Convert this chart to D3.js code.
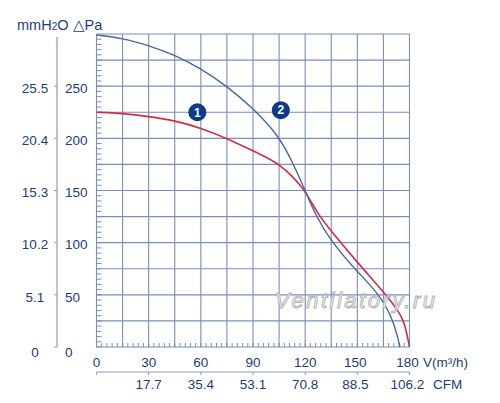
<!DOCTYPE html>
<html>
<head>
<meta charset="utf-8">
<script src="https://cdn.jsdelivr.net/npm/d3@7"></script>
<style>
  body { margin: 0; background: #fff; }
  text { font-family: "Liberation Sans", Arial, sans-serif; fill: #1f3c78; }
</style>
</head>
<body>
<svg width="500" height="403"></svg>
<script>
// curve 1 (red) and curve 2 (blue), airflow in m3/h, pressure in Pa
const blueFlow = [0, 15, 30, 45, 60, 75, 90, 105, 112.5, 120, 126, 135, 150, 163, 171, 174.5];
const bluePa   = [299, 296, 289, 280, 267, 250, 229, 202, 178, 150, 126, 101, 72, 50, 25, 0];
const redFlow  = [0, 15, 30, 45, 60, 75, 90, 97.5, 105, 112.5, 120, 127, 135, 150, 165, 173, 177, 180];
const redPa    = [225, 224, 221, 217, 210, 200, 188, 182, 175, 164, 150, 128, 111, 81, 53, 36, 25, 0];

// tick labels
const flowTicks = [0, 30, 60, 90, 120, 150, 180];
const cfmTicks = [30, 60, 90, 120, 150, 180];
const cfmLabels = ["17.7", "35.4", "53.1", "70.8", "88.5", "106.2"];
const paTicks = [0, 50, 100, 150, 200, 250];
const mmLabels = ["0", "5.1", "10.2", "15.3", "20.4", "25.5"];

const svg = d3.select("svg");
const gridColor = "#7b8eb8";

// scales for the plot area
const x = d3.scaleLinear().domain([0, 180]).range([96.5, 409.5]);
const y = d3.scaleLinear().domain([0, 300]).range([347, 34]);

// grid
const grid = svg.append("g");
grid.selectAll(".vgrid")
    .data(d3.range(0, 181, 15))
    .enter()
    .append("line")
    .attr("x1", d => x(d)).attr("x2", d => x(d))
    .attr("y1", y(0)).attr("y2", y(300))
    .attr("stroke", gridColor)
    .attr("stroke-width", 1.1);
grid.selectAll(".hgrid")
    .data(d3.range(0, 301, 25))
    .enter()
    .append("line")
    .attr("x1", x(0)).attr("x2", x(180))
    .attr("y1", d => y(d)).attr("y2", d => y(d))
    .attr("stroke", gridColor)
    .attr("stroke-width", 1.1);

// small ticks inside the plot, left side every 5 Pa and bottom every 3 m3/h
grid.selectAll(".ytick")
    .data(d3.range(0, 300, 5))
    .enter()
    .append("line")
    .attr("x1", x(0)).attr("x2", x(0) + 5)
    .attr("y1", d => y(d)).attr("y2", d => y(d))
    .attr("stroke", gridColor);
grid.selectAll(".xtick")
    .data(d3.range(0, 181, 3))
    .enter()
    .append("line")
    .attr("x1", d => x(d)).attr("x2", d => x(d))
    .attr("y1", y(0)).attr("y2", y(0) - 4)
    .attr("stroke", gridColor);

// curves
const line = d3.line()
    .x(d => x(d[0]))
    .y(d => y(d[1]))
    .curve(d3.curveBasis);

svg.append("path")
    .datum(redFlow.map((f, i) => [f, redPa[i]]))
    .attr("fill", "none")
    .attr("stroke", "#d42a4a")
    .attr("stroke-width", 1.6)
    .attr("d", line);

svg.append("path")
    .datum(blueFlow.map((f, i) => [f, bluePa[i]]))
    .attr("fill", "none")
    .attr("stroke", "#46689c")
    .attr("stroke-width", 1.4)
    .attr("d", line);

// curve markers
const markers = [
    { label: "1", flow: 58, pa: 225 },
    { label: "2", flow: 106, pa: 227 }
];
const mk = svg.selectAll(".marker")
    .data(markers)
    .enter()
    .append("g")
    .attr("transform", d => `translate(${x(d.flow)}, ${y(d.pa)})`);
mk.append("circle")
    .attr("r", 9)
    .attr("fill", "#0d3a8a");
mk.append("text")
    .attr("text-anchor", "middle")
    .attr("dy", "0.36em")
    .attr("font-size", "12px")
    .attr("font-weight", "bold")
    .style("fill", "#fff")
    .text(d => d.label);

// Pa labels
svg.selectAll(".palabel")
    .data(paTicks)
    .enter()
    .append("text")
    .attr("x", 65)
    .attr("y", d => y(d) + (d === 0 ? 5 : 2))
    .attr("dy", "0.35em")
    .attr("font-size", "13.5px")
    .text(d => d);

// mmH2O axis
svg.append("line")
    .attr("x1", 57).attr("x2", 57)
    .attr("y1", 37).attr("y2", y(0))
    .attr("stroke", "#8d9bbd")
    .attr("stroke-width", 1.2);
svg.selectAll(".mmtick")
    .data(paTicks)
    .enter()
    .append("line")
    .attr("x1", 54).attr("x2", 57)
    .attr("y1", d => y(d)).attr("y2", d => y(d))
    .attr("stroke", "#8d9bbd");
svg.selectAll(".mmlabel")
    .data(paTicks)
    .enter()
    .append("text")
    .attr("x", 35)
    .attr("y", d => y(d) + (d === 0 ? 5 : 2))
    .attr("dy", "0.35em")
    .attr("text-anchor", "middle")
    .attr("font-size", "13.5px")
    .text((d, i) => mmLabels[i]);

// title
const title = svg.append("text")
    .attr("x", 17)
    .attr("y", 30)
    .attr("font-size", "14.5px");
title.append("tspan").text("mmH");
title.append("tspan").attr("font-size", "10px").text("2");
title.append("tspan").text("O  △Pa");

// flow labels
svg.selectAll(".flowlabel")
    .data(flowTicks)
    .enter()
    .append("text")
    .attr("x", d => x(d) - (d >= 150 ? 2 : 0))
    .attr("y", 362)
    .attr("dy", "0.35em")
    .attr("text-anchor", "middle")
    .attr("font-size", "13.5px")
    .text(d => d);
svg.append("text")
    .attr("x", 423)
    .attr("y", 362)
    .attr("dy", "0.35em")
    .attr("font-size", "13.5px")
    .text("V(m³/h)");

// CFM axis
svg.append("line")
    .attr("x1", x(0)).attr("x2", x(180))
    .attr("y1", 372).attr("y2", 372)
    .attr("stroke", "#8d9bbd")
    .attr("stroke-width", 1.2);
svg.selectAll(".cfmtick")
    .data([0].concat(cfmTicks))
    .enter()
    .append("line")
    .attr("x1", d => x(d)).attr("x2", d => x(d))
    .attr("y1", 372).attr("y2", 375)
    .attr("stroke", "#8d9bbd");
svg.selectAll(".cfmlabel")
    .data(cfmTicks)
    .enter()
    .append("text")
    .attr("x", d => x(d) - (d >= 150 ? 2 : 0))
    .attr("y", 384)
    .attr("dy", "0.35em")
    .attr("text-anchor", "middle")
    .attr("font-size", "13.5px")
    .text((d, i) => cfmLabels[i]);
svg.append("text")
    .attr("x", 433)
    .attr("y", 384)
    .attr("dy", "0.35em")
    .attr("font-size", "13.5px")
    .text("CFM");

// watermark
svg.append("text")
    .attr("x", 275)
    .attr("y", 308)
    .attr("font-size", "22px")
    .attr("font-style", "italic")
    .attr("textLength", 160)
    .attr("lengthAdjust", "spacing")
    .style("fill", "#fff")
    .attr("stroke", "#b4b4b4")
    .attr("stroke-width", 1)
    .text("Ventilatory.ru");
</script>
</body>
</html>
